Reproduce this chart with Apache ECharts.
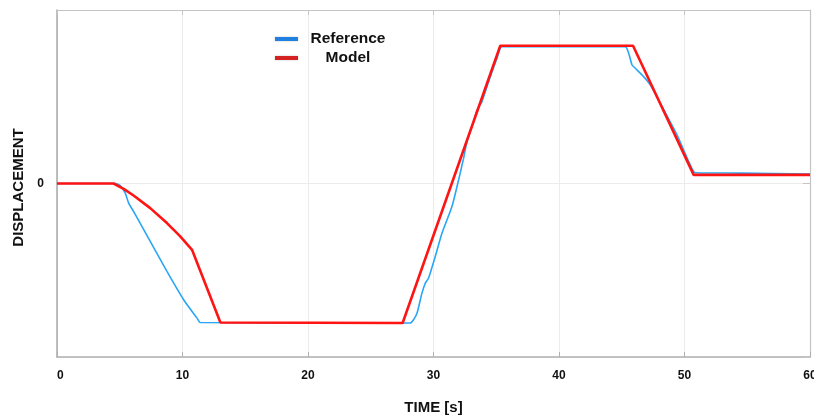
<!DOCTYPE html>
<html>
<head>
<meta charset="utf-8">
<script src="https://cdn.jsdelivr.net/npm/echarts@6/dist/echarts.min.js"></script>
<style>
html,body{margin:0;padding:0;background:#fff;}
#chart{width:814px;height:416px;}
</style>
</head>
<body>
<div id="chart"></div>
<script>
// Time axis ticks
const xTicks = [0, 10, 20, 30, 40, 50, 60];
const yTickLabels = ['0'];

// Reference series (time, displacement)
const refTime = [0, 4.65, 5.04, 5.44, 5.71, 6.10, 7.43, 8.76, 10.09, 11.16, 11.42, 28.15, 28.41, 28.69, 29.08, 29.35, 29.61, 30.14, 30.68, 31.47, 32.00, 32.40, 32.67, 33.20, 33.47, 33.86, 34.39, 35.06, 35.46, 45.28, 45.55, 45.82, 46.08, 46.74, 47.28, 48.07, 49.40, 50.46, 50.86, 54.5, 60];
const refValue = [0, 0, -0.012, -0.056, -0.113, -0.161, -0.334, -0.507, -0.670, -0.776, -0.801, -0.804, -0.785, -0.747, -0.632, -0.574, -0.545, -0.421, -0.286, -0.133, 0.021, 0.146, 0.242, 0.357, 0.424, 0.472, 0.587, 0.722, 0.789, 0.789, 0.751, 0.683, 0.664, 0.616, 0.568, 0.463, 0.280, 0.107, 0.062, 0.060, 0.055];

// Model series (time, displacement)
const modelTime = [0, 4.51, 5.31, 6.10, 7.43, 8.76, 9.82, 10.76, 13.02, 27.54, 35.32, 45.90, 50.73, 60];
const modelValue = [0, 0, -0.031, -0.069, -0.142, -0.228, -0.305, -0.382, -0.801, -0.804, 0.794, 0.794, 0.050, 0.050];

const seriesNames = ['Reference', 'Model'];

const pair = (ts, vs) => ts.map((t, i) => [t, vs[i]]);

const chart = echarts.init(document.getElementById('chart'));
const frameColor = '#b0b0b0';
const gridColor = '#ececec';
const font = 'Liberation Sans, Arial, sans-serif';
chart.setOption({
  animation: false,
  backgroundColor: '#ffffff',
  grid: { left: 57, right: 4, top: 10, bottom: 59, containLabel: false, outerBoundsMode: 'none' },
  legend: {
    orient: 'vertical',
    left: 270,
    top: 26,
    itemWidth: 23,
    itemHeight: 4,
    itemGap: 3,
    icon: 'rect',
    formatter: '{a|{name}}',
    textStyle: {
      fontFamily: font,
      fontWeight: 'bold',
      fontSize: 15.5,
      color: '#111',
      rich: {
        a: { width: 90, align: 'center', fontFamily: font, fontWeight: 'bold', fontSize: 15.5, color: '#111', lineHeight: 15 }
      }
    },
    data: [
      { name: seriesNames[0], itemStyle: { color: '#1f80e0', shadowColor: 'rgba(0,0,0,0.25)', shadowBlur: 2 } },
      { name: seriesNames[1], itemStyle: { color: '#d42222', shadowColor: 'rgba(0,0,0,0.25)', shadowBlur: 2 } }
    ]
  },
  xAxis: [{
    type: 'value',
    min: xTicks[0],
    max: xTicks[xTicks.length - 1],
    interval: 10,
    name: 'TIME [s]',
    nameLocation: 'middle',
    nameGap: 43,
    nameTextStyle: { fontFamily: font, fontWeight: 'bold', fontSize: 15, color: '#111' },
    axisLine: { show: true, onZero: false, lineStyle: { color: frameColor, width: 1.5 } },
    axisTick: { show: true, inside: true, length: 5, lineStyle: { color: frameColor } },
    axisLabel: {
      margin: 13,
      fontFamily: font,
      fontWeight: 'bold',
      fontSize: 12,
      color: '#111',
      alignMinLabel: 'left',
      formatter: v => xTicks.includes(v) ? String(v) : ''
    },
    splitLine: { show: true, lineStyle: { color: gridColor, width: 1 } }
  }, {
    type: 'value',
    position: 'top',
    min: xTicks[0],
    max: xTicks[xTicks.length - 1],
    interval: 10,
    axisLine: { show: true, onZero: false, lineStyle: { color: '#c4c4c4', width: 1.2 } },
    axisTick: { show: true, inside: true, length: 5, lineStyle: { color: '#c4c4c4' } },
    axisLabel: { show: false },
    splitLine: { show: false }
  }],
  yAxis: [{
    type: 'value',
    min: -1,
    max: 1,
    interval: 1,
    name: 'DISPLACEMENT',
    nameLocation: 'middle',
    nameGap: 31,
    nameTextStyle: { fontFamily: font, fontWeight: 'bold', fontSize: 15, color: '#111', padding: [0, 8, 0, 0] },
    axisLine: { show: true, onZero: false, lineStyle: { color: '#a8a8a8', width: 1.5 } },
    axisTick: { show: false },
    axisLabel: {
      margin: 13,
      fontFamily: font,
      fontWeight: 'bold',
      fontSize: 12,
      color: '#111',
      formatter: v => yTickLabels.includes(String(v)) ? String(v) : ''
    },
    splitLine: { show: true, lineStyle: { color: gridColor, width: 1 } }
  }, {
    type: 'value',
    position: 'right',
    min: -1,
    max: 1,
    interval: 1,
    axisLine: { show: true, onZero: false, lineStyle: { color: '#c4c4c4', width: 1.2 } },
    axisTick: { show: true, inside: true, length: 7, lineStyle: { color: '#c4c4c4' } },
    axisLabel: { show: false },
    splitLine: { show: false }
  }],
  series: [{
    name: seriesNames[0],
    type: 'line',
    data: pair(refTime, refValue),
    showSymbol: false,
    symbol: 'none',
    smooth: 0.2,
    lineStyle: { color: '#2aa6f6', width: 1.6 },
    itemStyle: { color: '#1f80e0' },
    z: 3
  }, {
    name: seriesNames[1],
    type: 'line',
    data: pair(modelTime, modelValue),
    showSymbol: false,
    symbol: 'none',
    lineStyle: { color: '#ff1414', width: 2.6 },
    itemStyle: { color: '#d42222' },
    z: 4
  }]
});
</script>
</body>
</html>
